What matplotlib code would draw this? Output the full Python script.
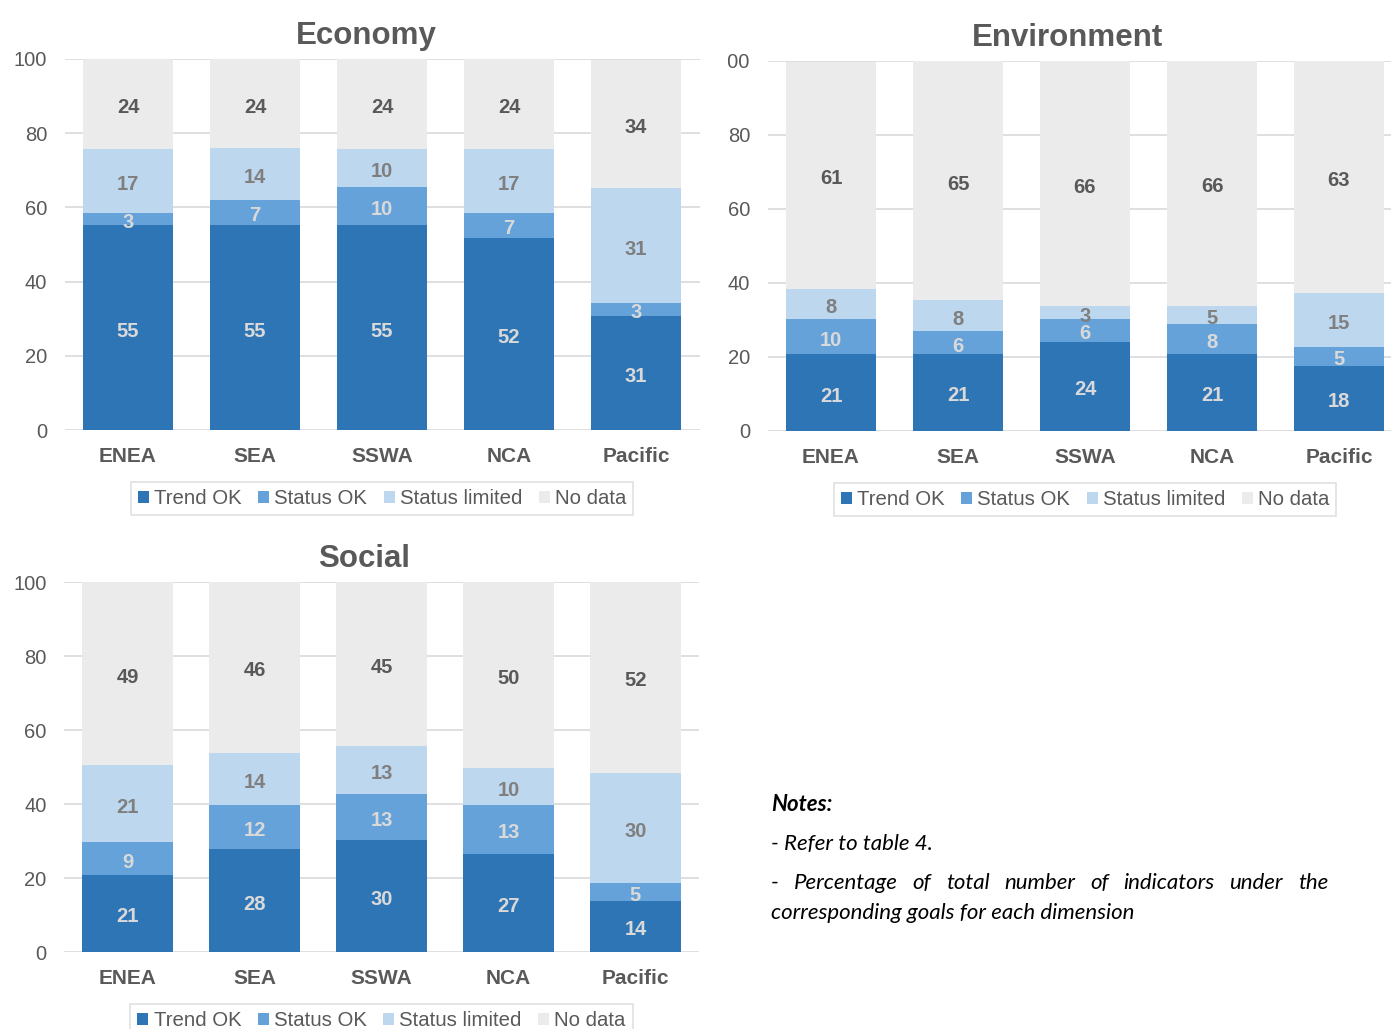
import matplotlib
matplotlib.use("Agg")
import matplotlib.pyplot as plt
from matplotlib.patches import Patch
from matplotlib.transforms import Bbox, TransformedBbox
import numpy as np

plt.rcParams['font.family'] = ['Liberation Sans', 'DejaVu Sans']

regions = ["ENEA", "SEA", "SSWA", "NCA", "Pacific"]
series_names = ["Trend OK", "Status OK", "Status limited", "No data"]

# Economy
eco_trend   = [55.2, 55.2, 55.2, 51.7, 30.8]
eco_status  = [3.4, 6.9, 10.3, 6.9, 3.4]
eco_limited = [17.2, 13.8, 10.3, 17.2, 31.0]
eco_nodata  = [24.2, 24.1, 24.2, 24.2, 34.4]

# Environment
env_trend   = [20.7, 20.8, 24.1, 20.8, 17.7]
env_status  = [9.6, 6.2, 6.2, 8.1, 4.9]
env_limited = [8.1, 8.3, 3.4, 4.9, 14.6]
env_nodata  = [61.4, 64.7, 66.2, 66.2, 62.8]

# Social
soc_trend   = [20.8, 27.8, 30.2, 26.6, 13.8]
soc_status  = [8.9, 11.9, 12.6, 13.1, 4.9]
soc_limited = [20.8, 14.1, 12.8, 10.0, 29.8]
soc_nodata  = [49.4, 46.2, 44.6, 50.3, 51.5]

yticks = [0, 20, 40, 60, 80, 100]

colors = ["#2E75B6", "#65A2D9", "#BDD7EE", "#EBEBEB"]
label_colors = ["#D9D9D9", "#D9D9D9", "#7F7F7F", "#595959"]
txt = "#595959"
grid = "#D9D9D9"

W, H = 1391, 1029
fig = plt.figure(figsize=(W / 100, H / 100), dpi=100)


def px_axes(left, top, right, bottom):
    return fig.add_axes([left / W, 1 - bottom / H, (right - left) / W, (bottom - top) / H])


def panel(ax, title, data, title_x):
    x = np.arange(len(regions))
    bottom = np.zeros(len(regions))
    for vals, name, c, lc in zip(data, series_names, colors, label_colors):
        vals = np.array(vals)
        bars = ax.bar(x, vals, 0.71, bottom=bottom, color=c, label=name, zorder=2)
        anns = ax.bar_label(bars, labels=[f"{v:.0f}" for v in vals], label_type='center',
                            color=lc, fontsize=14.5, fontweight='bold')
        for a in anns:
            a.xyann = (0, -2.5)
        bottom = bottom + vals
    ax.set_xlim(-0.5, len(regions) - 0.5)
    ax.set_ylim(0, 100)
    ax.set_yticks(yticks)
    ax.set_yticklabels([str(t) for t in yticks])
    ax.set_xticks(x)
    ax.set_xticklabels(regions, fontweight='bold')
    ax.tick_params(axis='x', length=0, pad=12, labelsize=15, labelcolor=txt)
    ax.tick_params(axis='y', length=0, pad=12.5, labelsize=14.5, labelcolor=txt)
    for s in ["top", "right", "left", "bottom"]:
        ax.spines[s].set_visible(False)
    ax.yaxis.grid(True, color=grid, linewidth=1.2, zorder=0)
    ax.set_axisbelow(True)
    ax.set_title(title, fontsize=22.5, fontweight='bold', color=txt, pad=11, x=title_x)
    handles = [Patch(facecolor=c, edgecolor='none', label=n) for c, n in zip(colors, series_names)]
    leg = ax.legend(handles=handles, loc='upper center', bbox_to_anchor=(0.5, -0.113),
                    ncol=4, frameon=True, fancybox=False, fontsize=14.7,
                    handlelength=0.55, handleheight=0.55, handletextpad=0.25,
                    columnspacing=0.8, borderpad=0.35, labelcolor=txt)
    leg.get_frame().set_edgecolor(grid)
    leg.get_frame().set_linewidth(1.2)
    return ax


ax1 = px_axes(64.5, 59, 699.5, 430)
panel(ax1, "Economy", [eco_trend, eco_status, eco_limited, eco_nodata], 0.475)

ax2 = px_axes(767.5, 61, 1402.5, 431)
panel(ax2, "Environment", [env_trend, env_status, env_limited, env_nodata], 0.472)
clip = TransformedBbox(Bbox([[728 / W, 0], [1.0, 1.0]]), fig.transFigure)
for lab in ax2.get_yticklabels():
    lab.set_clip_box(clip)
    lab.set_clip_on(True)

ax3 = px_axes(64, 582, 699, 952)
panel(ax3, "Social", [soc_trend, soc_status, soc_limited, soc_nodata], 0.473)

# Notes
nfam = ['Lato', 'DejaVu Sans']
nsize = 16
fig.text(771 / W, 1 - 811 / H, "Notes:", fontsize=nsize, fontweight='bold', style='italic',
         family=nfam, color='black', va='baseline')
fig.text(771 / W, 1 - 850 / H, "- Refer to table 4.", fontsize=nsize, style='italic',
         family=nfam, color='black', va='baseline')
# justified line
words = "- Percentage of total number of indicators under the".split(" ")
renderer = fig.canvas.get_renderer()
objs = []
widths = []
for w in words:
    t = fig.text(0, 1 - 889 / H, w, fontsize=nsize, style='italic', family=nfam,
                 color='black', va='baseline')
    objs.append(t)
    widths.append(t.get_window_extent(renderer).width)
x0, x1 = 771, 1328
gap = (x1 - x0 - sum(widths)) / (len(words) - 1)
xp = x0
for t, wd in zip(objs, widths):
    t.set_x(xp / W)
    xp += wd + gap
fig.text(771 / W, 1 - 919 / H, "corresponding goals for each dimension", fontsize=nsize,
         style='italic', family=nfam, color='black', va='baseline')

fig.savefig("out.png", dpi=100, facecolor='white')
